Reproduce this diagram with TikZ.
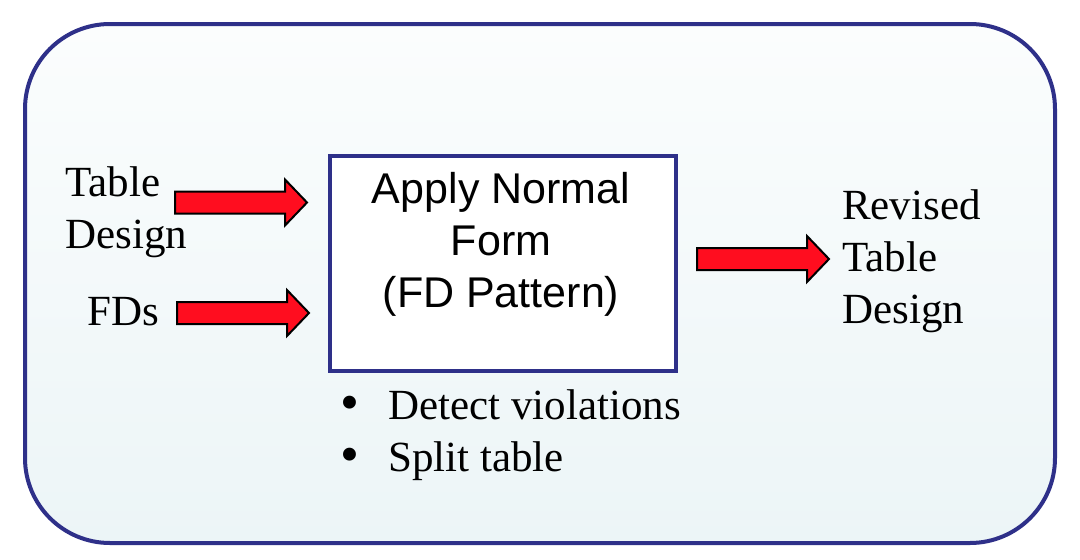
\documentclass[tikz,border=0pt]{standalone}
\usepackage{fontspec}
\setmainfont{Liberation Serif}
\newfontfamily\arialfont{Liberation Sans}
\definecolor{frameblue}{HTML}{2E3089}
\definecolor{arrowred}{HTML}{FF0D1F}
\definecolor{bgtop}{HTML}{FBFDFD}
\definecolor{bgbot}{HTML}{ECF5F7}
\newcommand\mybul{\makebox[48pt][l]{\raisebox{-1pt}{\fontsize{54}{52}\selectfont •}}}
\begin{document}
\begin{tikzpicture}[x=1pt,y=-1pt,
  serifText/.style={font=\fontsize{43}{52}\selectfont, inner sep=0pt, align=left},
  boxText/.style={font=\arialfont\fontsize{43}{52}\selectfont, inner sep=0pt, align=center},
  blockarrow/.pic={\path[fill=arrowred, draw=black, line width=2pt, line join=miter]
     (0,-11) -- (110,-11) -- (110,-23) -- (132,0) -- (110,23) -- (110,11) -- (0,11) -- cycle;}
]
\useasboundingbox (0,0) rectangle (1080,560);
\path[draw=frameblue, line width=4pt, rounded corners=85pt, top color=bgtop, bottom color=bgbot]
  (25,24) rectangle (1055,543);
\node[draw=frameblue, line width=3.5pt, fill=white, inner sep=0pt, minimum width=346pt, minimum height=215pt, anchor=north west] (nf) at (328,154) {};
\node[boxText, anchor=north] (nftext) at (501,172) {Apply Normal\\Form\\(FD Pattern)};
\node[serifText, anchor=north west] (td) at (65,166) {Table\\Design};
\node[serifText, anchor=base west] (fds) at (87,325) {FDs};
\node[serifText, anchor=north west] (rtd) at (842,189) {Revised\\Table\\Design};
\node[serifText, anchor=north west] (bul) at (340,389) {\mybul Detect violations\\\mybul Split table};
\pic (a1) at (175,202.5) {blockarrow};
\pic (a2) at (177,313) {blockarrow};
\pic (a3) at (697,259) {blockarrow};
\end{tikzpicture}
\end{document}
